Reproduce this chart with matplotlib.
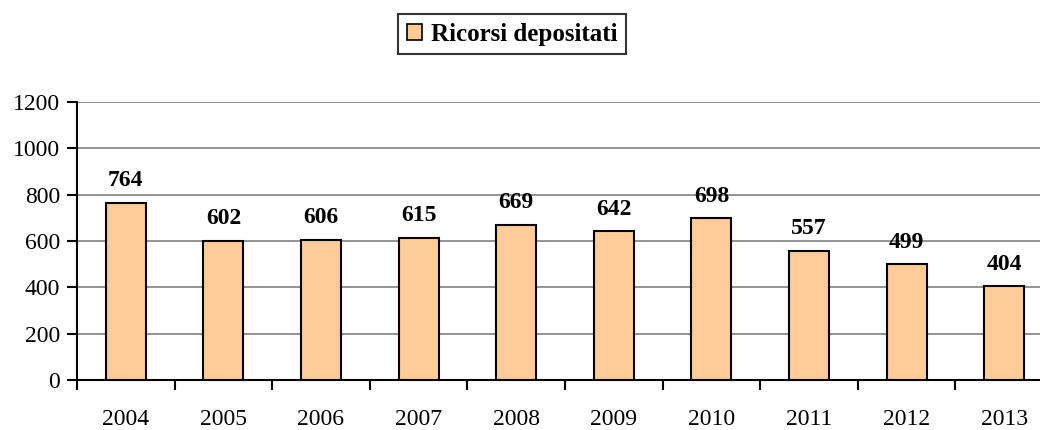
import matplotlib
matplotlib.use("Agg")
import matplotlib.pyplot as plt
from matplotlib.patches import Patch

years = ["2004", "2005", "2006", "2007", "2008", "2009", "2010", "2011", "2012", "2013"]
ricorsi = [764, 602, 606, 615, 669, 642, 698, 557, 499, 404]
yticks = [0, 200, 400, 600, 800, 1000, 1200]
series_name = "Ricorsi depositati"

plt.rcParams['font.family'] = ['Liberation Serif', 'DejaVu Serif']

W, H = 1040, 430
fig = plt.figure(figsize=(W / 100, H / 100), dpi=100)
left, right_px = 77, 77 + 976
bottom_px, top_px = 380, 102
ax = fig.add_axes([left / W, 1 - bottom_px / H, (right_px - left) / W, (bottom_px - top_px) / H])

x = list(range(len(years)))
ax.bar(x, ricorsi, width=0.41, color="#FFCC99", edgecolor="black", linewidth=1.5, zorder=3)
for xi, v in zip(x, ricorsi):
    ax.annotate(str(v), (xi, v), xytext=(0, 16), textcoords="offset points",
                ha="center", va="center", fontsize=17, fontweight="bold")

ax.set_xlim(-0.5, len(years) - 0.5)
ax.set_ylim(0, 1200)
ax.set_yticks(yticks)
ax.set_yticklabels([str(t) for t in yticks], fontsize=17)
ax.yaxis.grid(True, color="#808080", linewidth=1.2, zorder=0)
ax.set_axisbelow(True)

ax.set_xticks([i + 0.5 for i in range(-1, len(years))])
ax.set_xticklabels([])
ax.set_xticks(x, minor=True)
ax.set_xticklabels(years, minor=True, fontsize=17)
ax.tick_params(axis="x", which="minor", length=0, pad=21)
ax.tick_params(axis="x", which="major", length=7, width=1.5, direction="out")
ax.tick_params(axis="y", length=7, width=1.5, direction="out", pad=5)

for s in ["top", "right"]:
    ax.spines[s].set_visible(False)
for s in ["left", "bottom"]:
    ax.spines[s].set_linewidth(1.5)

handle = Patch(facecolor="#FFCC99", edgecolor="black", linewidth=1.2)
leg = fig.legend([handle], [series_name], loc="center", bbox_to_anchor=(512 / W, 1 - 34 / H),
                 prop={"size": 18, "weight": "bold"}, fancybox=False, frameon=True,
                 handlelength=0.6, handleheight=0.6, handletextpad=0.35, borderpad=0.35)
leg.get_frame().set_edgecolor("black")
leg.get_frame().set_linewidth(1.5)

fig.savefig("out.png", dpi=100)
